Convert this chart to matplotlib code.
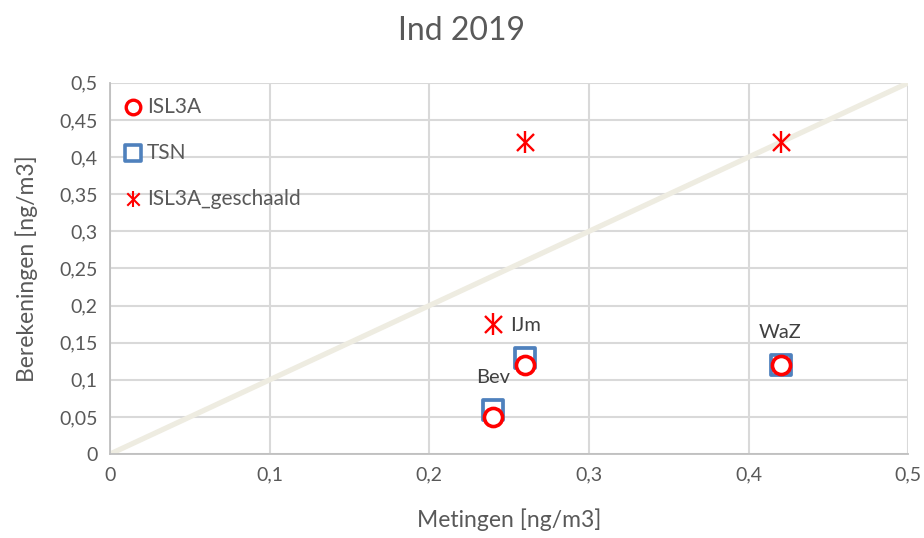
import matplotlib.pyplot as plt
from matplotlib.ticker import FuncFormatter, MultipleLocator

plt.rcParams['font.family'] = ['Lato', 'DejaVu Sans']

# measurement locations and values (ng/m3)
stations = ['Bev', 'IJm', 'WaZ']
metingen = [0.24, 0.26, 0.42]
isl3a = [0.05, 0.12, 0.12]
tsn = [0.06, 0.13, 0.12]
isl3a_geschaald = [0.175, 0.42, 0.42]
diag = [0, 0.5]

grey = '#595959'

fig = plt.figure(figsize=(9.24, 5.38), dpi=100)
ax = fig.add_axes([0.119, 0.156, 0.864, 0.69])

ax.plot(diag, diag, color='#eeece1', lw=3.8, zorder=2, solid_capstyle='butt')

ax.scatter(metingen, tsn, marker='s', s=220, facecolor='white',
           edgecolor='#4f81bd', linewidths=2.7, zorder=3)
ax.scatter(metingen, isl3a, marker='o', s=170, facecolor='white',
           edgecolor='#ff0000', linewidths=2.6, zorder=4)
# asterisk: cross plus vertical bar
ax.scatter(metingen, isl3a_geschaald, marker='x', s=150, color='#ff0000',
           linewidths=1.7, zorder=4)
ax.scatter(metingen, isl3a_geschaald, marker='|', s=260, color='#ff0000',
           linewidths=1.7, zorder=4)

for name, x, y in zip(stations, metingen, tsn):
    ax.annotate(name, (x, y), xytext=(0, 17), textcoords='offset points',
                ha='center', va='bottom', fontsize=14.5, color='#404040')

# legend drawn inside the plot area
ax.scatter([0.0145], [0.467], marker='o', s=110, facecolor='white',
           edgecolor='#ff0000', linewidths=2.4, zorder=5)
ax.text(0.023, 0.467, 'ISL3A', fontsize=15, color=grey, va='center')
ax.scatter([0.0145], [0.405], marker='s', s=130, facecolor='white',
           edgecolor='#4f81bd', linewidths=2.6, zorder=5)
ax.text(0.023, 0.405, 'TSN', fontsize=15, color=grey, va='center')
ax.scatter([0.0145], [0.343], marker='x', s=80, color='#ff0000',
           linewidths=1.5, zorder=5)
ax.scatter([0.0145], [0.343], marker='|', s=140, color='#ff0000',
           linewidths=1.5, zorder=5)
ax.text(0.023, 0.343, 'ISL3A_geschaald', fontsize=15, color=grey, va='center')

ax.set_xlim(0, 0.5)
ax.set_ylim(0, 0.5)
ax.xaxis.set_major_locator(MultipleLocator(0.1))
ax.yaxis.set_major_locator(MultipleLocator(0.05))
fmt = FuncFormatter(lambda v, p: ('%g' % round(v, 3)).replace('.', ','))
ax.xaxis.set_major_formatter(fmt)
ax.yaxis.set_major_formatter(fmt)
ax.tick_params(length=0, labelsize=14, labelcolor=grey, pad=9)

ax.grid(True, color='#d9d9d9', lw=1.5, zorder=0)
ax.set_axisbelow(True)
for side in ['top', 'right']:
    ax.spines[side].set_visible(False)
for side in ['left', 'bottom']:
    ax.spines[side].set_color('#bfbfbf')
    ax.spines[side].set_linewidth(1.3)

ax.set_xlabel('Metingen [ng/m3]', fontsize=16.5, color=grey, labelpad=18)
ax.set_ylabel('Berekeningen [ng/m3]', fontsize=16.5, color=grey, labelpad=15)
fig.suptitle('Ind 2019', fontsize=23, color=grey, y=0.97)

fig.savefig('out.png', dpi=100)
